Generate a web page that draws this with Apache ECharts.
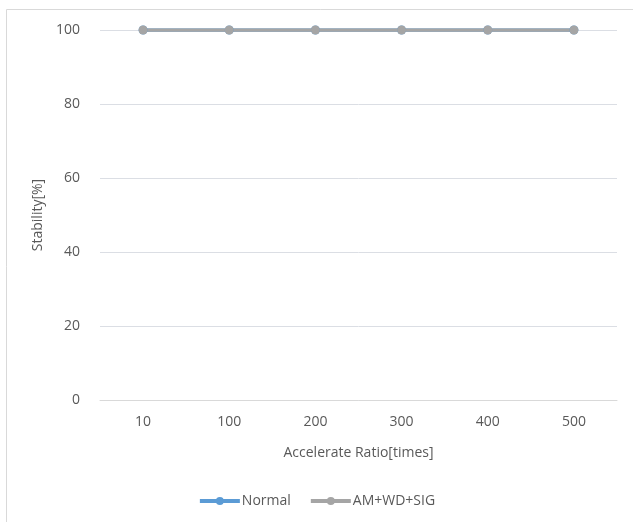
<!DOCTYPE html>
<html><head><meta charset="utf-8">
<script src="https://cdn.jsdelivr.net/npm/echarts@6/dist/echarts.min.js"></script>
<style>html,body{margin:0;padding:0;background:#fff}#c{width:633px;height:522px}</style>
</head><body><div id="c"></div>
<script>
const categories = ['10','100','200','300','400','500'];
const normalValues = [100,100,100,100,100,100];
const amWdSigValues = [100,100,100,100,100,100];
const seriesNames = ['Normal','AM+WD+SIG'];
const font = 'Open Sans, sans-serif';
const txt = '#595959';
const chart = echarts.init(document.getElementById('c'), null, {renderer:'canvas'});
chart.setOption({
  animation:false,
  graphic:[{type:'rect',shape:{x:6.5,y:9.5,width:700,height:600},style:{fill:'none',stroke:'#d9d9d9',lineWidth:1},silent:true}],
  grid:{left:100,right:16,top:30,bottom:122,containLabel:false},
  legend:{bottom:9,left:'center',itemWidth:40,itemHeight:10,itemGap:18,
    lineStyle:{width:4},
    textStyle:{color:txt,fontFamily:font,fontSize:14,padding:[0,0,0,-3]},
    data:seriesNames},
  xAxis:{type:'category',data:categories,boundaryGap:true,
    name:'Accelerate Ratio[times]',nameLocation:'middle',nameGap:46,
    nameTextStyle:{color:txt,fontFamily:font,fontSize:14},
    axisLine:{show:true,lineStyle:{color:'#d9d9d9'}},axisTick:{show:false},
    axisLabel:{color:txt,fontFamily:font,fontSize:14,margin:15}},
  yAxis:{type:'value',min:0,max:100,interval:20,
    name:'Stability[%]',nameLocation:'middle',nameGap:55,nameRotate:90,
    nameTextStyle:{color:txt,fontFamily:font,fontSize:14},
    axisLine:{show:false},axisTick:{show:false},
    axisLabel:{color:txt,fontFamily:font,fontSize:14,margin:20}},
  series:[
    {name:seriesNames[0],type:'line',data:normalValues,symbol:'circle',symbolSize:9,
     lineStyle:{color:'#5b9bd5',width:3.5},itemStyle:{color:'#5b9bd5'}},
    {name:seriesNames[1],type:'line',data:amWdSigValues,symbol:'circle',symbolSize:9,
     lineStyle:{color:'#a5a5a5',width:3.5},itemStyle:{color:'#a5a5a5'}}
  ]
});
</script></body></html>
